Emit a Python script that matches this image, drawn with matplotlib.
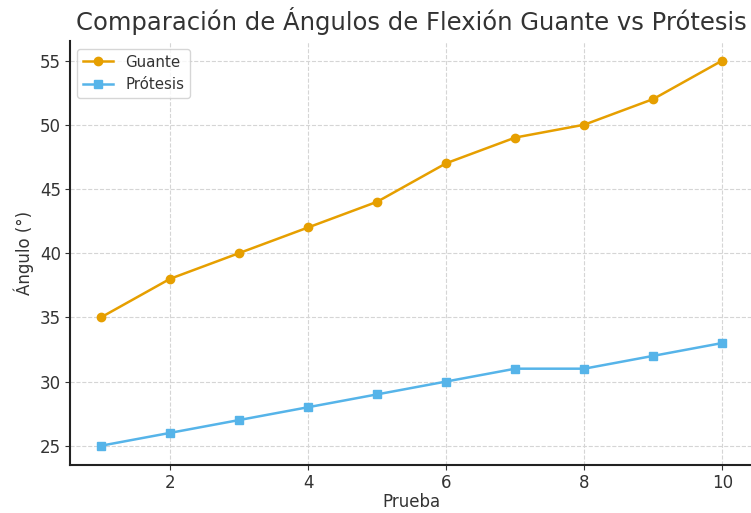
import matplotlib
matplotlib.use("Agg")
import matplotlib.pyplot as plt

pruebas = [1, 2, 3, 4, 5, 6, 7, 8, 9, 10]
guante = [35, 38, 40, 42, 44, 47, 49, 50, 52, 55]
protesis = [25, 26, 27, 28, 29, 30, 31, 31, 32, 33]

fig = plt.figure(figsize=(7.51, 5.13), dpi=100)
ax = fig.add_axes([0.0932, 0.0936, 0.910, 0.826])

ax.plot(pruebas, guante, marker='o', color='#E69F00', linewidth=1.8, markersize=6, label='Guante')
ax.plot(pruebas, protesis, marker='s', color='#56B4E9', linewidth=1.8, markersize=6, label='Prótesis')

ax.set_xticks([2, 4, 6, 8, 10])
ax.set_yticks([25, 30, 35, 40, 45, 50, 55])
ax.grid(True, linestyle='--', color='#d5d5d5', linewidth=0.8)
ax.set_axisbelow(True)
for s in ['top', 'right']:
    ax.spines[s].set_visible(False)
ax.spines['left'].set_color('#222222')
ax.spines['bottom'].set_color('#222222')
ax.spines['left'].set_linewidth(1.5)
ax.spines['bottom'].set_linewidth(1.5)
ax.tick_params(labelsize=12, colors='#333333', pad=3)

ax.set_title('Comparación de Ángulos de Flexión Guante vs Prótesis', fontsize=17.5, color='#333333', pad=8)
ax.set_xlabel('Prueba', fontsize=12, color='#333333', labelpad=1)
ax.set_ylabel('Ángulo (°)', fontsize=12, color='#333333')
leg = ax.legend(loc='upper left', fontsize=10.8)
for t in leg.get_texts():
    t.set_color('#333333')

fig.savefig('out.png', dpi=100)
